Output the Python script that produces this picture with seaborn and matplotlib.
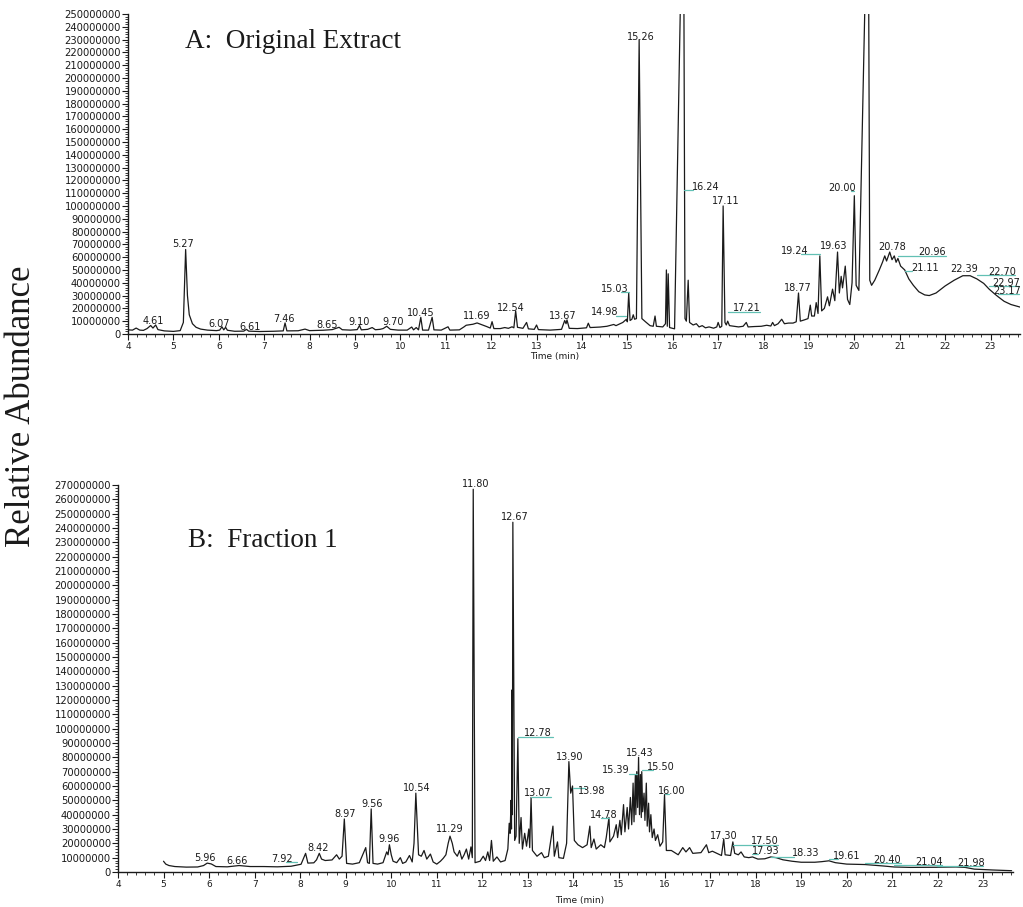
import matplotlib
matplotlib.use("Agg")
import matplotlib.pyplot as plt
import numpy as np
import pandas as pd
import seaborn as sns
from matplotlib.ticker import MultipleLocator, FuncFormatter

sns.set_theme(style="ticks")
plt.rcParams["font.family"] = ["DejaVu Sans"]

MILLION = 1e6  # abundances are listed in millions of counts

# ---------------- Panel A: original extract ----------------
time_a = [4.00, 4.10, 4.18, 4.26, 4.34, 4.42, 4.50, 4.55, 4.61, 4.66, 4.80, 5.00,
          5.15, 5.22, 5.27, 5.31, 5.35, 5.42, 5.50, 5.60, 5.75, 5.95, 6.02, 6.07,
          6.11, 6.15, 6.19, 6.35, 6.55, 6.61, 6.66, 6.90, 7.20, 7.42, 7.46, 7.50,
          7.75, 7.90, 8.00, 8.30, 8.50, 8.65, 8.72, 8.90, 9.05, 9.10, 9.14, 9.28,
          9.38, 9.45, 9.55, 9.62, 9.70, 9.78, 9.95, 10.15, 10.25, 10.29, 10.35, 10.40,
          10.45, 10.49, 10.62, 10.70, 10.74, 10.90, 11.05, 11.09, 11.30, 11.40, 11.45, 11.52,
          11.60, 11.69, 11.78, 11.90, 11.98, 12.02, 12.06, 12.20, 12.30, 12.38, 12.46, 12.50,
          12.54, 12.58, 12.70, 12.78, 12.82, 12.95, 13.00, 13.04, 13.30, 13.55, 13.62, 13.65,
          13.67, 13.72, 13.90, 14.10, 14.14, 14.18, 14.40, 14.55, 14.70, 14.75, 14.90, 14.98,
          15.00, 15.03, 15.06, 15.10, 15.13, 15.16, 15.20, 15.26, 15.32, 15.40, 15.50, 15.57,
          15.61, 15.64, 15.78, 15.84, 15.86, 15.88, 15.90, 15.93, 16.04, 16.20, 16.24, 16.27,
          16.30, 16.34, 16.37, 16.45, 16.52, 16.58, 16.65, 16.72, 16.80, 16.90, 16.97, 17.00,
          17.04, 17.08, 17.11, 17.15, 17.18, 17.21, 17.25, 17.35, 17.45, 17.55, 17.62, 17.66,
          17.80, 17.95, 18.07, 18.16, 18.20, 18.24, 18.32, 18.40, 18.46, 18.55, 18.65, 18.72,
          18.77, 18.81, 18.90, 18.98, 19.03, 19.06, 19.12, 19.16, 19.20, 19.24, 19.28, 19.34,
          19.41, 19.45, 19.52, 19.57, 19.63, 19.67, 19.71, 19.74, 19.80, 19.85, 19.90, 19.95,
          20.00, 20.04, 20.10, 20.27, 20.31, 20.34, 20.38, 20.45, 20.55, 20.62, 20.67, 20.71,
          20.78, 20.83, 20.88, 20.92, 20.96, 21.02, 21.11, 21.20, 21.30, 21.42, 21.55, 21.65,
          21.80, 22.00, 22.20, 22.39, 22.55, 22.70, 22.85, 22.97, 23.10, 23.17, 23.30, 23.45,
          23.65]
abund_a = [3.2, 3.0, 4.6, 3.0, 2.8, 4.2, 6.6, 4.6, 7.0, 3.4, 2.4, 2.0,
           2.6, 9.0, 66.0, 30.0, 15.0, 8.0, 5.2, 3.8, 3.0, 2.6, 3.0, 5.6,
           3.2, 5.2, 2.9, 2.1, 2.2, 3.6, 2.2, 1.9, 2.1, 2.4, 8.6, 2.4,
           2.5, 3.8, 2.6, 2.9, 3.4, 5.2, 3.3, 3.0, 3.4, 6.6, 3.2, 3.6,
           5.0, 3.3, 3.6, 4.2, 6.0, 3.6, 3.0, 3.0, 5.4, 3.2, 5.0, 3.2,
           13.0, 3.0, 3.0, 13.0, 3.2, 3.0, 5.6, 3.0, 3.2, 5.5, 6.8, 7.2,
           7.6, 8.6, 7.4, 5.8, 4.6, 9.6, 4.2, 4.2, 5.0, 4.4, 5.6, 4.8,
           18.0, 5.2, 4.4, 9.0, 4.0, 3.6, 7.0, 3.4, 3.0, 3.6, 10.5, 8.0,
           11.0, 4.4, 4.2, 4.8, 8.4, 5.0, 5.4, 6.0, 7.4, 6.5, 9.0, 11.5,
           9.5, 32.0, 10.5, 11.5, 15.0, 11.5, 12.0, 230.0, 12.0, 9.5, 6.5, 6.0,
           14.0, 6.0, 5.5, 8.0, 50.0, 6.0, 47.0, 5.0, 4.0, 320.0, 320.0, 12.0,
           10.0, 42.0, 9.0, 7.0, 8.0, 5.5, 6.5, 4.8, 5.5, 4.5, 5.5, 9.0,
           5.0, 6.0, 100.0, 9.0, 7.0, 10.0, 6.5, 6.0, 5.5, 6.0, 9.0, 5.5,
           5.8, 6.0, 6.8, 6.2, 9.0, 6.5, 8.0, 11.5, 8.0, 8.5, 8.5, 9.5,
           32.0, 10.0, 11.0, 12.0, 22.5, 14.0, 14.0, 24.5, 16.0, 61.0, 18.0, 20.0,
           29.0, 22.0, 35.0, 26.0, 64.0, 32.0, 45.0, 36.0, 53.0, 27.0, 23.0, 40.0,
           108.0, 38.0, 34.0, 320.0, 320.0, 42.0, 38.0, 42.0, 50.0, 56.0, 61.0, 57.0,
           64.0, 58.0, 61.0, 56.0, 59.0, 53.0, 50.0, 43.0, 38.0, 33.0, 30.5, 30.0,
           32.0, 37.5, 42.0, 45.5, 45.5, 43.0, 39.5, 35.0, 31.0, 29.0, 25.5, 23.0,
           21.0]
peaks_a = [4.61, 5.27, 6.07, 6.61, 7.46, 8.65, 9.10, 9.70, 10.45, 11.69, 12.54,
           13.67, 14.98, 15.03, 15.26, 16.24, 17.11, 17.21, 18.77, 19.24, 19.63,
           20.00, 20.78, 20.96, 21.11, 22.39, 22.70, 22.97, 23.17]

# ---------------- Panel B: fraction 1 ----------------
time_b = [5.00, 5.05, 5.12, 5.25, 5.50, 5.75, 5.88, 5.96, 6.05, 6.15, 6.40, 6.66,
          6.90, 7.20, 7.50, 7.80, 7.92, 8.02, 8.12, 8.17, 8.30, 8.36, 8.42, 8.47,
          8.55, 8.70, 8.80, 8.86, 8.92, 8.97, 9.02, 9.15, 9.30, 9.40, 9.44, 9.48,
          9.52, 9.56, 9.60, 9.70, 9.82, 9.90, 9.93, 9.96, 10.00, 10.04, 10.12, 10.20,
          10.25, 10.32, 10.40, 10.46, 10.50, 10.54, 10.60, 10.66, 10.72, 10.78, 10.86, 10.92,
          11.00, 11.08, 11.14, 11.20, 11.25, 11.29, 11.34, 11.38, 11.45, 11.50, 11.55, 11.60,
          11.65, 11.70, 11.75, 11.78, 11.80, 11.84, 11.95, 12.02, 12.07, 12.12, 12.16, 12.20,
          12.24, 12.32, 12.40, 12.50, 12.56, 12.59, 12.61, 12.63, 12.64, 12.65, 12.66, 12.67,
          12.71, 12.74, 12.78, 12.81, 12.85, 12.88, 12.93, 12.97, 13.02, 13.04, 13.07, 13.10,
          13.20, 13.30, 13.36, 13.45, 13.55, 13.58, 13.65, 13.68, 13.78, 13.85, 13.90, 13.94,
          13.98, 14.02, 14.10, 14.20, 14.30, 14.36, 14.39, 14.45, 14.50, 14.60, 14.68, 14.72,
          14.78, 14.80, 14.88, 14.94, 14.97, 15.02, 15.05, 15.10, 15.13, 15.18, 15.21, 15.25,
          15.28, 15.31, 15.33, 15.36, 15.37, 15.39, 15.41, 15.43, 15.45, 15.47, 15.49, 15.50,
          15.52, 15.55, 15.57, 15.60, 15.62, 15.65, 15.67, 15.70, 15.73, 15.77, 15.80, 15.85,
          15.90, 15.96, 16.00, 16.04, 16.15, 16.30, 16.40, 16.47, 16.55, 16.62, 16.80, 16.92,
          16.97, 17.05, 17.15, 17.25, 17.30, 17.33, 17.45, 17.50, 17.54, 17.62, 17.68, 17.75,
          17.85, 17.93, 18.05, 18.20, 18.33, 18.45, 18.60, 18.80, 19.00, 19.30, 19.45, 19.61,
          19.75, 20.00, 20.40, 20.80, 21.04, 21.40, 21.98, 22.40, 22.60, 22.80, 23.20, 23.62]
abund_b = [7.5, 5.5, 4.5, 3.8, 3.4, 3.5, 4.5, 6.2, 5.6, 3.8, 3.6, 4.5,
           3.8, 3.8, 3.6, 4.0, 4.8, 5.4, 13.0, 6.2, 6.4, 8.5, 13.0, 9.0,
           8.0, 8.4, 12.0, 9.0, 11.0, 37.0, 6.0, 5.5, 6.5, 14.0, 17.0, 6.5,
           6.0, 44.0, 6.0, 5.5, 6.5, 14.0, 12.0, 19.0, 12.0, 7.5, 6.5, 10.0,
           6.0, 7.0, 11.5, 7.0, 20.0, 55.0, 12.0, 11.0, 15.0, 9.0, 12.5, 7.0,
           5.5, 7.5, 9.5, 12.0, 20.0, 25.0, 20.0, 14.0, 11.0, 15.0, 9.0, 12.0,
           16.0, 9.0, 17.5, 10.0, 267.0, 6.5, 7.5, 11.0, 8.0, 14.0, 8.0, 22.0,
           7.5, 10.5, 7.0, 8.0, 16.0, 34.0, 27.0, 50.0, 30.0, 127.0, 40.0, 244.0,
           22.0, 25.0, 93.0, 20.0, 38.0, 16.0, 27.0, 18.0, 30.0, 17.0, 52.0, 15.0,
           11.0, 13.5, 10.0, 11.0, 32.0, 11.0, 21.0, 10.0, 9.5, 20.0, 77.0, 55.0,
           60.0, 22.0, 19.0, 17.0, 19.0, 32.0, 17.0, 23.0, 16.0, 19.0, 17.0, 24.0,
           38.0, 21.0, 25.0, 33.0, 24.0, 36.0, 26.0, 47.0, 28.0, 45.0, 30.0, 52.0,
           33.0, 62.0, 35.0, 68.0, 40.0, 70.0, 45.0, 80.0, 40.0, 68.0, 38.0, 70.0,
           42.0, 55.0, 36.0, 62.0, 32.0, 48.0, 28.0, 40.0, 24.0, 30.0, 22.0, 26.0,
           18.0, 21.0, 54.0, 15.0, 15.0, 12.0, 17.0, 14.0, 17.0, 13.0, 13.5, 19.0,
           13.5, 14.5, 13.0, 11.5, 23.0, 12.0, 11.5, 21.0, 13.0, 12.0, 14.0, 10.5,
           10.0, 10.5, 9.0, 9.2, 10.5, 10.0, 8.5, 7.5, 6.8, 6.8, 7.2, 7.8,
           6.5, 5.5, 5.2, 4.2, 3.5, 3.2, 3.3, 3.5, 3.2, 2.0, 1.4, 0.9]
peaks_b = [5.96, 6.66, 7.92, 8.42, 8.97, 9.56, 9.96, 10.54, 11.29, 11.80, 12.67,
           12.78, 13.07, 13.90, 13.98, 14.78, 15.39, 15.43, 15.50, 16.00, 17.30,
           17.50, 17.93, 18.33, 19.61, 20.40, 21.04, 21.98]

# Label placement: peak -> (text centre time, text centre abundance, leader)
# leader = (end time, abundance) of a short line drawn from the peak towards the label
place_a = {
    4.61: (4.55, 10.3, None), 5.27: (5.21, 70.0, None), 6.07: (6.00, 7.8, None),
    6.61: (6.69, 5.6, None), 7.46: (7.44, 12.0, None), 8.65: (8.38, 7.0, None),
    9.10: (9.09, 9.2, None), 9.70: (9.83, 9.4, None), 10.45: (10.45, 16.0, None),
    11.69: (11.69, 13.8, None), 12.54: (12.44, 20.5, None), 13.67: (13.58, 14.3, None),
    14.98: (14.50, 16.9, (14.75, 14.3)), 15.03: (14.73, 35.3, (14.85, 32.6)),
    15.26: (15.30, 232.0, None), 16.24: (16.73, 115.0, (16.45, 112.5)),
    17.11: (17.17, 103.5, None), 17.21: (17.63, 20.0, (17.92, 17.5)),
    18.77: (18.76, 36.2, None), 19.24: (18.69, 64.8, (18.82, 62.2)),
    19.63: (19.55, 68.4, None), 20.00: (19.73, 114.0, (19.92, 111.4)),
    20.78: (20.83, 68.3, None), 20.96: (21.71, 63.8, (22.03, 61.2)),
    21.11: (21.56, 51.3, (21.28, 48.8)), 22.39: (22.41, 51.0, None),
    22.70: (23.25, 48.7, (23.55, 46.0)), 22.97: (23.35, 40.0, (23.62, 37.4)),
    23.17: (23.37, 33.6, (23.62, 31.0)),
}
place_b = {
    5.96: (5.91, 9.6, None), 6.66: (6.62, 7.9, None), 7.92: (7.61, 9.2, (7.70, 6.8)),
    8.42: (8.39, 17.0, None), 8.97: (8.98, 40.3, None), 9.56: (9.58, 47.4, None),
    9.96: (9.96, 23.2, None), 10.54: (10.55, 58.8, None), 11.29: (11.28, 29.7, None),
    11.80: (11.86, 270.5, None), 12.67: (12.72, 248.0, None),
    12.78: (13.21, 97.0, (13.55, 94.4)), 13.07: (13.21, 55.0, (13.50, 52.4)),
    13.90: (13.91, 80.0, None), 13.98: (14.41, 56.2, (14.25, 58.6)),
    14.78: (14.66, 40.1, (14.60, 37.6)), 15.39: (14.94, 71.0, (15.22, 68.5)),
    15.43: (15.45, 83.0, None), 15.50: (15.91, 73.4, (15.75, 71.0)),
    16.00: (16.15, 56.7, (16.10, 54.3)), 17.30: (17.31, 25.0, None),
    17.50: (18.21, 21.5, (18.50, 19.0)), 17.93: (18.23, 14.5, (18.05, 12.3)),
    18.33: (19.09, 13.0, (18.85, 10.8)), 19.61: (20.00, 11.0, (19.80, 8.9)),
    20.40: (20.89, 8.5, (21.20, 6.4)), 21.04: (21.81, 7.0, (22.10, 5.0)),
    21.98: (22.73, 6.3, (23.00, 4.4)),
}

TEAL = "#62c0b4"
INK = "#1a1a1a"

fig = plt.figure(figsize=(10.23, 9.07), dpi=100)
ax_a = fig.add_axes([0.1251, 0.6318, 0.8720, 0.3528])
ax_b = fig.add_axes([0.1153, 0.0386, 0.8749, 0.4267])


def draw_panel(ax, times, abund, peaks, place, ymax):
    df = pd.DataFrame({"time": times, "abundance": np.asarray(abund) * MILLION})
    sns.lineplot(data=df, x="time", y="abundance", ax=ax, color=INK,
                 linewidth=0.9, estimator=None, sort=False)
    for p in peaks:
        tx, ty, leader = place[p]
        if leader is not None:
            lx, ly = leader
            ax.plot([p, lx], [ly * MILLION, ly * MILLION], color=TEAL,
                    linewidth=0.9, clip_on=False)
        ax.text(tx, ty * MILLION, f"{p:.2f}", ha="center", va="center",
                fontsize=7, color=INK, clip_on=False)

    ax.set_xlim(4.0, 23.65)
    ax.set_ylim(0, ymax)
    ax.xaxis.set_major_locator(MultipleLocator(1))
    ax.xaxis.set_minor_locator(MultipleLocator(0.2))
    ax.yaxis.set_major_locator(MultipleLocator(10 * MILLION))
    ax.yaxis.set_minor_locator(MultipleLocator(2 * MILLION))
    ax.xaxis.set_major_formatter(FuncFormatter(lambda v, _: f"{int(round(v))}"))
    ax.yaxis.set_major_formatter(FuncFormatter(lambda v, _: f"{int(round(v))}"))
    ax.tick_params(axis="y", which="major", length=4, width=0.8, labelsize=7.2,
                   pad=1, color=INK, labelcolor=INK)
    ax.tick_params(axis="y", which="minor", length=2.5, width=0.6, color=INK)
    ax.tick_params(axis="x", which="major", length=4, width=0.8, labelsize=6.5,
                   pad=2, color=INK, labelcolor=INK)
    ax.tick_params(axis="x", which="minor", length=2.5, width=0.6, color=INK)
    for side in ("left", "bottom"):
        ax.spines[side].set_linewidth(1.0)
        ax.spines[side].set_color(INK)
    sns.despine(ax=ax)
    ax.set_xlabel("")
    ax.set_ylabel("")


draw_panel(ax_a, time_a, abund_a, peaks_a, place_a, 250 * MILLION)
draw_panel(ax_b, time_b, abund_b, peaks_b, place_b, 270 * MILLION)

serif = ["Liberation Serif", "DejaVu Serif"]
fig.text(185 / 1023, 1 - 48 / 907, "A:  Original Extract", family=serif,
         fontsize=19.5, color=INK, ha="left", va="baseline")
fig.text(188 / 1023, 1 - 547 / 907, "B:  Fraction 1", family=serif,
         fontsize=19.5, color=INK, ha="left", va="baseline")
fig.text(22 / 1023, 1 - 406 / 907, "Relative Abundance", family=serif,
         fontsize=25, color=INK, rotation=90, ha="center", va="center")
fig.text(555 / 1023, 1 - 356 / 907, "Time (min)", fontsize=6.5, color=INK,
         ha="center", va="center")
fig.text(580 / 1023, 1 - 900 / 907, "Time (min)", fontsize=6.5, color=INK,
         ha="center", va="center")

fig.savefig("out.png", dpi=100, facecolor="white")
